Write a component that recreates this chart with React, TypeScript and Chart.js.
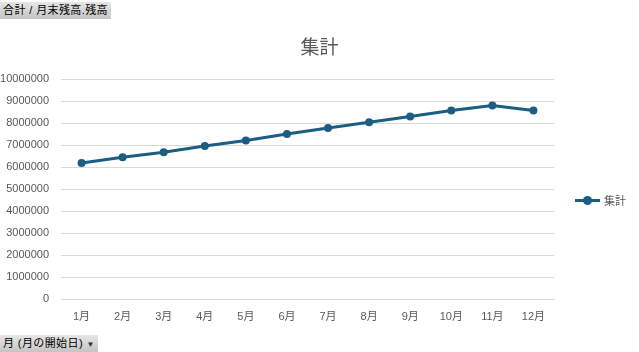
import React, { useEffect, useRef } from "react";
import { Chart, registerables } from "chart.js";

Chart.register(...registerables);

const categories = ["1月", "2月", "3月", "4月", "5月", "6月", "7月", "8月", "9月", "10月", "11月", "12月"];
const seriesName = "集計";
const totals = [6180000, 6440000, 6670000, 6950000, 7200000, 7500000, 7770000, 8030000, 8300000, 8570000, 8800000, 8570000];
const yTicks = [0, 1000000, 2000000, 3000000, 4000000, 5000000, 6000000, 7000000, 8000000, 9000000, 10000000];
const titleText = "集計";
const valueFieldButton = "合計 / 月末残高.残高";
const axisFieldButton = "月 (月の開始日)";

const LINE = "#1c5d82";
const TEXT = "#595959";
const GRID = "#d9d9d9";
const FONT = "'Liberation Sans', 'Noto Sans CJK JP', sans-serif";

export default function App() {
  const ref = useRef<HTMLCanvasElement | null>(null);

  useEffect(() => {
    if (!ref.current) return;
    const chart = new Chart(ref.current, {
      type: "line",
      data: {
        labels: categories,
        datasets: [
          {
            label: seriesName,
            data: totals,
            borderColor: LINE,
            backgroundColor: LINE,
            borderWidth: 3,
            pointRadius: 4,
            pointBorderWidth: 0,
            pointBackgroundColor: LINE,
            tension: 0,
          },
        ],
      },
      options: {
        responsive: false,
        animation: false,
        devicePixelRatio: 1,
        layout: { padding: { top: 79, right: 85, bottom: 0, left: 0 } },
        plugins: {
          legend: { display: false },
          title: { display: false },
          tooltip: { enabled: false },
        },
        scales: {
          x: {
            offset: true,
            grid: { display: false, drawTicks: false },
            border: { display: true, color: GRID, width: 1 },
            ticks: {
              color: TEXT,
              font: { family: FONT, size: 11 },
              padding: 11,
              maxRotation: 0,
              autoSkip: false,
            },
            afterFit: (s: any) => {
              s.height = 53;
            },
          },
          y: {
            min: 0,
            max: 10000000,
            afterBuildTicks: (s: any) => {
              s.ticks = yTicks.map((v) => ({ value: v }));
            },
            grid: { color: GRID, lineWidth: 1, drawTicks: false },
            border: { display: false },
            ticks: {
              color: TEXT,
              font: { family: FONT, size: 11 },
              padding: 12,
              callback: (v: any) => String(v),
            },
            afterFit: (s: any) => {
              s.width = 61;
            },
          },
        },
      },
    });
    return () => chart.destroy();
  }, []);

  const btn: React.CSSProperties = {
    position: "absolute",
    left: 0,
    background: "linear-gradient(#e6e6e6, #c4c4c4)",
    color: "#000",
    fontFamily: FONT,
    fontSize: 11,
    letterSpacing: "0.4px",
    lineHeight: "17px",
    height: 17,
    padding: "0 3px",
    whiteSpace: "nowrap",
  };

  return (
    <div style={{ position: "fixed", left: 0, top: 0, width: 639, height: 352, background: "#fff", overflow: "hidden" }}>
      <canvas ref={ref} width={639} height={352} style={{ position: "absolute", left: 0, top: 0, width: 639, height: 352 }} />
      <div
        style={{
          position: "absolute",
          left: 0,
          width: 639,
          top: 36,
          textAlign: "center",
          fontFamily: FONT,
          fontSize: 19,
          color: TEXT,
          lineHeight: "24px",
        }}
      >
        {titleText}
      </div>
      <div style={{ position: "absolute", left: 575, top: 192, height: 16, display: "flex", alignItems: "center" }}>
        <div style={{ position: "relative", width: 25, height: 16 }}>
          <div style={{ position: "absolute", left: 0, top: 7, width: 25, height: 3, background: LINE }} />
          <div style={{ position: "absolute", left: 8, top: 4, width: 9, height: 9, borderRadius: 5, background: LINE }} />
        </div>
        <span style={{ marginLeft: 4, fontFamily: FONT, fontSize: 11, color: TEXT }}>{seriesName}</span>
      </div>
      <div style={{ ...btn, top: 2 }}>{valueFieldButton}</div>
      <div style={{ ...btn, top: 335 }}>
        {axisFieldButton} <span style={{ fontSize: 8, color: "#333" }}>▼</span>
      </div>
    </div>
  );
}
